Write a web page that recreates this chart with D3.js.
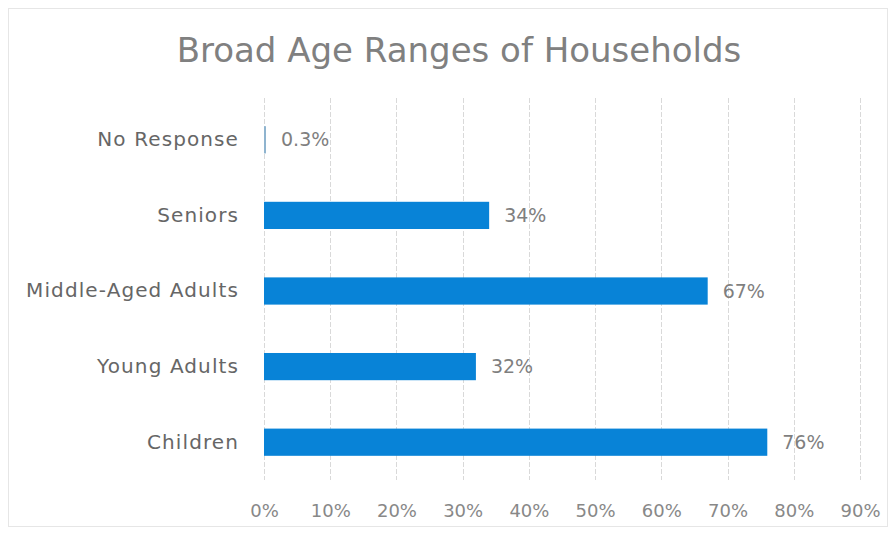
<!DOCTYPE html>
<html>
<head>
<meta charset="utf-8">
<script src="https://cdn.jsdelivr.net/npm/d3@7"></script>
<style>
  body { margin: 0; background: #fff; }
  svg { display: block; font-family: "DejaVu Sans", sans-serif; }
</style>
</head>
<body>
<svg id="chart"></svg>
<script>
// data
const categories = ["No Response", "Seniors", "Middle-Aged Adults", "Young Adults", "Children"];
const values = [0.3, 34, 67, 32, 76];
const valueLabels = ["0.3%", "34%", "67%", "32%", "76%"];
const xTicks = [0, 10, 20, 30, 40, 50, 60, 70, 80, 90];
const chartTitle = "Broad Age Ranges of Households";

class BarChart {
    margin = { top: 102, right: 36, bottom: 55, left: 264 }

    constructor(svg, width = 896, height = 535) {
        this.svg = d3.select(svg);
        this.width = width;
        this.height = height;
    }

    initialize() {
        this.svg.attr("width", this.width).attr("height", this.height);

        // faint outer frame
        this.svg.append("rect")
            .attr("x", 8.5).attr("y", 8.5)
            .attr("width", this.width - 17).attr("height", this.height - 17)
            .attr("fill", "none")
            .attr("stroke", "#e6e6e6");

        this.svg.append("text")
            .attr("x", 459).attr("y", 62)
            .attr("text-anchor", "middle")
            .attr("font-size", 34)
            .attr("fill", "#808080")
            .text(chartTitle);

        this.x = d3.scaleLinear()
            .domain([0, 90])
            .range([this.margin.left, this.width - this.margin.right]);
        this.y = d3.scaleBand()
            .domain(categories)
            .range([this.margin.top, this.height - this.margin.bottom])
            .paddingInner(0.64)
            .paddingOuter(0.32);
    }

    update() {
        const x = this.x, y = this.y;
        const [y0, y1] = y.range();

        // vertical gridlines
        this.svg.append("g")
            .selectAll("line")
            .data(xTicks)
            .join("line")
            .attr("x1", d => Math.round(x(d)) + 0.5)
            .attr("x2", d => Math.round(x(d)) + 0.5)
            .attr("y1", y0 - 4)
            .attr("y2", y1)
            .attr("stroke", "#d9d9d9")
            .attr("stroke-dasharray", "5,2");

        // x axis labels
        const xAxis = this.svg.append("g")
            .attr("transform", `translate(0, ${y1 + 21})`)
            .call(d3.axisBottom(x).tickValues(xTicks).tickFormat(d => d + "%").tickSize(0));
        xAxis.select(".domain").remove();
        xAxis.selectAll("text")
            .attr("font-family", "DejaVu Sans, sans-serif")
            .attr("font-size", 18)
            .attr("fill", "#888888");

        // category labels
        const yAxis = this.svg.append("g")
            .attr("transform", `translate(${x(0) - 22}, 0)`)
            .call(d3.axisLeft(y).tickSize(0));
        yAxis.select(".domain").remove();
        yAxis.selectAll("text")
            .attr("font-family", "DejaVu Sans, sans-serif")
            .attr("font-size", 20)
            .attr("letter-spacing", 1.1)
            .attr("fill", "#666666");

        const rows = categories.map((c, i) => ({ cat: c, value: values[i], label: valueLabels[i] }));

        this.svg.append("g")
            .selectAll("rect")
            .data(rows)
            .join("rect")
            .attr("x", x(0))
            .attr("y", d => y(d.cat))
            .attr("width", d => Math.max(2, x(d.value) - x(0)))
            .attr("height", y.bandwidth())
            .attr("fill", d => d.value < 1 ? "#8fb4cf" : "#0883d7");

        this.svg.append("g")
            .selectAll("text")
            .data(rows)
            .join("text")
            .attr("x", d => Math.max(x(d.value), x(0) + 2) + 15)
            .attr("y", d => y(d.cat) + y.bandwidth() / 2)
            .attr("dy", "0.35em")
            .attr("font-size", 19)
            .attr("fill", "#7f7f7f")
            .text(d => d.label);
    }
}

const chart = new BarChart("#chart");
chart.initialize();
chart.update();
</script>
</body>
</html>
